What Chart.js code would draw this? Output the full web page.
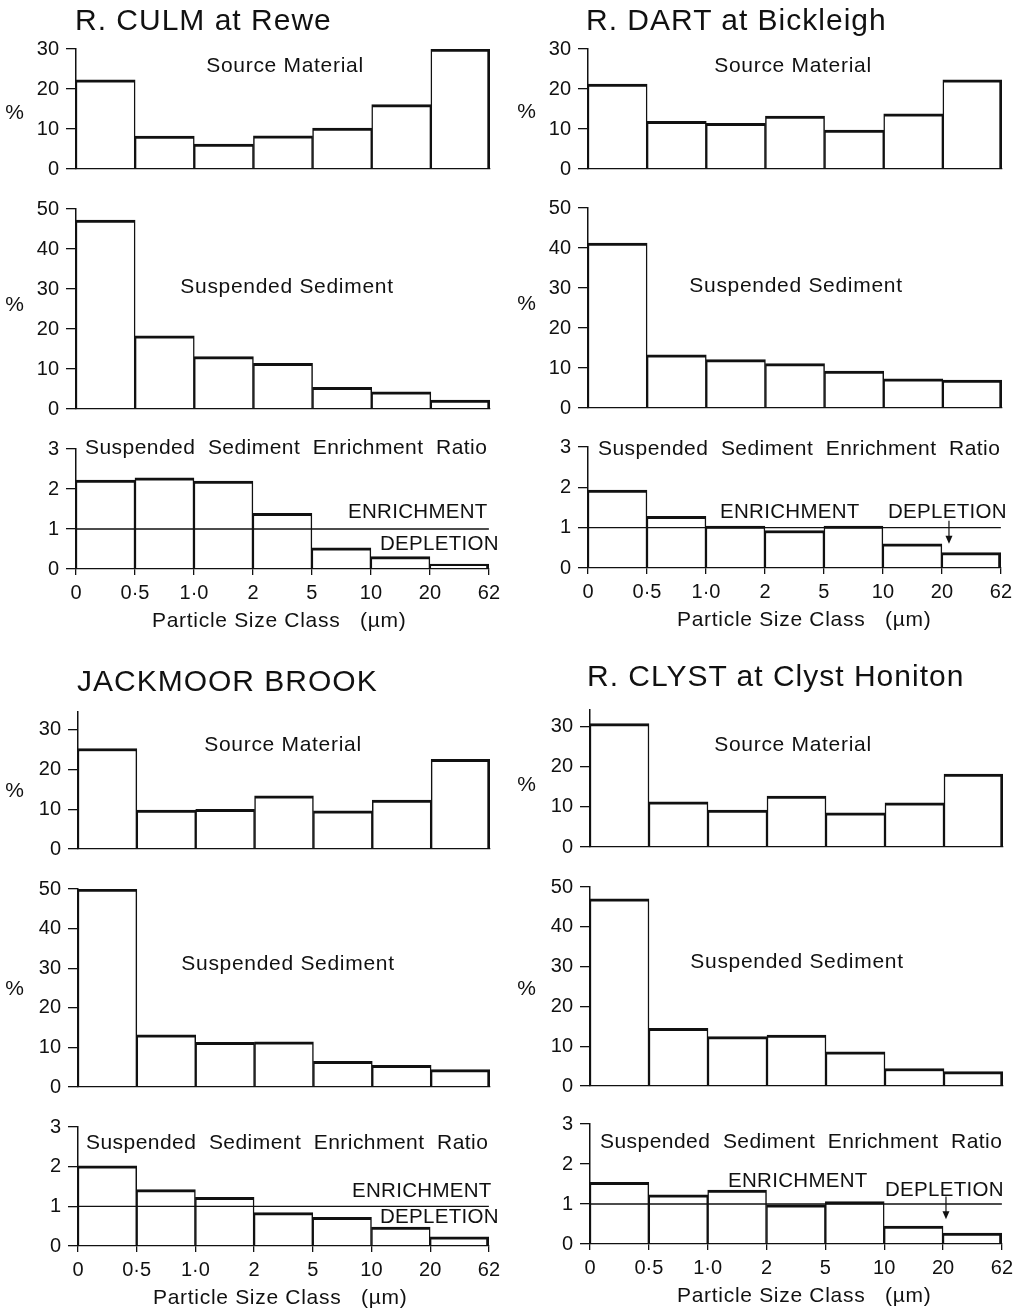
<!DOCTYPE html>
<html>
<head>
<meta charset="utf-8">
<script src="https://cdn.jsdelivr.net/npm/chart.js@4"></script>
<style>
  body { margin: 0; background: #fff; }
  #page { position: relative; width: 1021px; height: 1311px; overflow: hidden; background: #fff; }
  canvas { position: absolute; }
  .t { position: absolute; font-family: 'Liberation Sans', Arial, sans-serif; color: #111;
       white-space: pre; line-height: 1; transform: translateY(-50%); }
  .c { transform: translate(-50%, -50%); }
  .title { font-size: 30px; letter-spacing: 1px; }
  .lab { font-size: 21px; letter-spacing: 0.7px; }
  .ratio { letter-spacing: 0.45px; }
  .zone { font-size: 20.5px; letter-spacing: 0.3px; }
</style>
</head>
<body>
<div id="page"></div>
<script>
// particle size class edges (µm)
const sizeEdges = ['0', '0·5', '1·0', '2', '5', '10', '20', '62'];
const siteNames = ['R. CULM at Rewe', 'R. DART at Bickleigh', 'JACKMOOR BROOK', 'R. CLYST at Clyst Honiton'];

// % by size class
const culmSource = [22.3, 8.2, 6.2, 8.3, 10.2, 16.1, 30];
const culmSuspended = [47.2, 18.3, 13.1, 11.4, 5.4, 4.3, 2.2];
const culmRatio = [2.22, 2.28, 2.2, 1.39, 0.53, 0.31, 0.12];

const dartSource = [21.2, 11.9, 11.4, 13.2, 9.7, 13.8, 22.3];
const dartSuspended = [41.2, 13.3, 12.1, 11.1, 9.2, 7.3, 7.0];
const dartRatio = [1.93, 1.28, 1.04, 0.93, 1.04, 0.6, 0.38];

const jackSource = [25.3, 9.8, 10, 13.4, 9.6, 12.3, 22.6];
const jackSuspended = [50, 13.2, 11.3, 11.4, 6.5, 5.5, 4.4];
const jackRatio = [2.02, 1.42, 1.23, 0.84, 0.72, 0.48, 0.23];

const clystSource = [30.8, 11.3, 9.2, 12.7, 8.5, 11, 18.2];
const clystSuspended = [47, 14.5, 12.4, 12.8, 8.6, 4.4, 3.6];
const clystRatio = [1.54, 1.23, 1.35, 0.98, 1.06, 0.45, 0.27];

const ratioLevel = 1;

// layout of the four panels (pixel boxes of the plot areas)
const panels = [
  { left: 76, right: 490, src: [49, 169, 30], sus: [209, 409], rat: [449, 569],
    data: [culmSource, culmSuspended, culmRatio], arrow: null },
  { left: 588, right: 1002, src: [49, 169, 30], sus: [208, 408], rat: [447, 568],
    data: [dartSource, dartSuspended, dartRatio], arrow: { x: 6.12, y0: 1.17, y1: 0.6 } },
  { left: 78, right: 490, src: [712, 849, 34.5], sus: [889, 1087], rat: [1127, 1246],
    data: [jackSource, jackSuspended, jackRatio], arrow: null },
  { left: 590, right: 1003, src: [710, 847, 34.2], sus: [887, 1086], rat: [1124, 1244],
    data: [clystSource, clystSuspended, clystRatio], arrow: { x: 6.05, y0: 1.19, y1: 0.62 } }
];

const YW = 70, PT = 26, PR = 16;
const page = document.getElementById('page');
const FONT = "'Liberation Sans', Arial, sans-serif";

const arrowPlugin = {
  id: 'arrow',
  afterDatasetsDraw(chart, args, opts) {
    if (!opts || opts.x === undefined) return;
    const xs = chart.scales.x, ys = chart.scales.y, c = chart.ctx;
    const x = xs.getPixelForValue(opts.x);
    const y0 = ys.getPixelForValue(opts.y0), y1 = ys.getPixelForValue(opts.y1);
    c.save();
    c.strokeStyle = '#111'; c.fillStyle = '#111'; c.lineWidth = 1.2;
    c.beginPath(); c.moveTo(x, y0); c.lineTo(x, y1 - 6); c.stroke();
    c.beginPath(); c.moveTo(x - 3.5, y1 - 8); c.lineTo(x + 3.5, y1 - 8); c.lineTo(x, y1); c.closePath(); c.fill();
    c.restore();
  }
};

function makeChart(left, right, top, bottom, max, step, values, isRatio, arrow) {
  const XH = isRatio ? 36 : 26;
  const cv = document.createElement('canvas');
  cv.width = YW + (right - left) + PR;
  cv.height = PT + (bottom - top) + XH;
  cv.style.left = (left - YW) + 'px';
  cv.style.top = (top - PT) + 'px';
  page.appendChild(cv);

  const last = values.length - 1;
  const datasets = [{
    type: 'bar',
    data: values.map((v, i) => ({ x: i + 0.5, y: v })),
    backgroundColor: '#fff',
    borderColor: '#111',
    borderWidth: (ctx) => ({ top: 3, left: 1.5, right: ctx.dataIndex === last ? 3 : 1.5, bottom: 0 }),
    borderSkipped: 'start',
    barPercentage: 1,
    categoryPercentage: 1,
    order: 2
  }];
  if (isRatio) {
    datasets.push({
      type: 'line',
      data: [{ x: 0, y: ratioLevel }, { x: values.length, y: ratioLevel }],
      borderColor: '#111', borderWidth: 1.3, pointRadius: 0, order: 1
    });
  }

  const chart = new Chart(cv, {
    type: 'bar',
    data: { datasets },
    plugins: [arrowPlugin],
    options: {
      responsive: false,
      animation: false,
      events: [],
      layout: { padding: { top: PT, right: PR, left: 0, bottom: 0 } },
      plugins: { legend: { display: false }, tooltip: { enabled: false }, arrow: arrow || {} },
      scales: {
        x: {
          type: 'linear', min: 0, max: values.length, offset: false,
          afterFit: (s) => { s.height = XH; },
          grid: { offset: false, drawOnChartArea: false, drawTicks: isRatio, tickLength: 6, color: '#111', lineWidth: 1.3 },
          border: { display: true, color: '#111', width: 1.3, z: 1 },
          ticks: {
            display: isRatio, stepSize: 1, autoSkip: false, maxRotation: 0, padding: 6,
            color: '#111', font: { family: FONT, size: 20 },
            callback: (v) => sizeEdges[v]
          }
        },
        y: {
          min: 0, max: max,
          afterFit: (s) => { s.width = YW; },
          grid: { drawOnChartArea: false, drawTicks: true, tickLength: 10, color: '#111', lineWidth: 1.3 },
          border: { display: true, color: '#111', width: 1.5, z: 1 },
          ticks: { stepSize: step, includeBounds: false, padding: 7, color: '#111', font: { family: FONT, size: 20 } }
        }
      }
    }
  });
  // nudge the canvas so the plot area lands exactly on the wanted box
  const a = chart.chartArea;
  cv.style.left = (left - a.left) + 'px';
  cv.style.top = (top - a.top) + 'px';
}

panels.forEach(p => {
  makeChart(p.left, p.right, p.src[0], p.src[1], p.src[2], 10, p.data[0], false, null);
  makeChart(p.left, p.right, p.sus[0], p.sus[1], 50, 10, p.data[1], false, null);
  makeChart(p.left, p.right, p.rat[0], p.rat[1], 3, 1, p.data[2], true, p.arrow);
});

function addText(txt, cls, x, y) {
  const d = document.createElement('div');
  d.className = 't ' + cls;
  d.textContent = txt;
  d.style.left = x + 'px';
  d.style.top = y + 'px';
  page.appendChild(d);
}

// titles
addText(siteNames[0], 'title', 75, 20);
addText(siteNames[1], 'title', 586, 20);
addText(siteNames[2], 'title', 77, 681);
addText(siteNames[3], 'title', 587, 676);

// panel labels
const textRows = [
  { src: [285, 64], sus: [287, 285], rat: [85, 446], pct: [15, 111, 303], axis: [152, 619],
    enr: [348, 511], dep: [380, 543] },
  { src: [793, 64], sus: [796, 284], rat: [598, 447], pct: [527, 110, 302], axis: [677, 618],
    enr: [720, 511], dep: [888, 511] },
  { src: [283, 743], sus: [288, 962], rat: [86, 1141], pct: [15, 789, 987], axis: [153, 1296],
    enr: [352, 1190], dep: [380, 1216] },
  { src: [793, 743], sus: [797, 960], rat: [600, 1140], pct: [527, 783, 987], axis: [677, 1294],
    enr: [728, 1180], dep: [885, 1189] }
];
textRows.forEach(r => {
  addText('Source Material', 'lab c', r.src[0], r.src[1]);
  addText('Suspended Sediment', 'lab c', r.sus[0], r.sus[1]);
  addText('Suspended  Sediment  Enrichment  Ratio', 'lab ratio', r.rat[0], r.rat[1]);
  addText('%', 'lab c', r.pct[0], r.pct[1]);
  addText('%', 'lab c', r.pct[0], r.pct[2]);
  addText('Particle Size Class   (µm)', 'lab', r.axis[0], r.axis[1]);
  addText('ENRICHMENT', 'zone', r.enr[0], r.enr[1]);
  addText('DEPLETION', 'zone', r.dep[0], r.dep[1]);
});
</script>
</body>
</html>
